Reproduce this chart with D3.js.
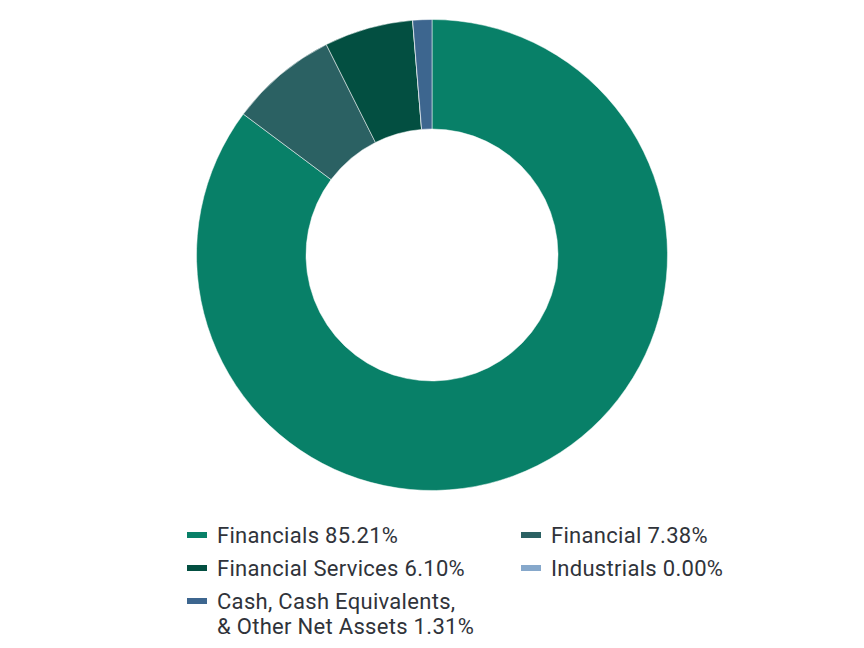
<!DOCTYPE html>
<html>
<head>
<meta charset="utf-8">
<script src="https://cdn.jsdelivr.net/npm/d3@7"></script>
<style>
  body { margin: 0; background: #fff; }
</style>
</head>
<body>
<div id="chart"></div>
<script>
const labels = ["Financials", "Financial", "Financial Services", "Industrials", "Cash, Cash Equivalents, & Other Net Assets"];
const values = [85.21, 7.38, 6.10, 0.00, 1.31];
const colors = ["#088068", "#2b6163", "#034f41", "#86a8cb", "#3d668f"];

const width = 864, height = 648;
const cx = 432, cy = 255;

const svg = d3.select("#chart")
  .append("svg")
  .attr("width", width)
  .attr("height", height);

const data = labels.map((l, i) => ({ label: l, value: values[i], color: colors[i] }));

const pie = d3.pie().sort(null).value(d => d.value);
const arc = d3.arc().innerRadius(126).outerRadius(235.5);

svg.append("g")
  .attr("transform", `translate(${cx}, ${cy})`)
  .selectAll("path")
  .data(pie(data))
  .enter()
  .append("path")
  .attr("d", arc)
  .attr("fill", d => d.data.color)
  .attr("stroke", "#fff")
  .attr("stroke-width", 0.5);

// legend: order in picture
const legendPos = [
  { i: 0, x: 187, y: 535 },
  { i: 1, x: 521, y: 535 },
  { i: 2, x: 187, y: 568 },
  { i: 3, x: 521, y: 568 },
  { i: 4, x: 187, y: 601 }
];

const legend = svg.append("g");
legendPos.forEach(p => {
  const d = data[p.i];
  const g = legend.append("g").attr("transform", `translate(${p.x}, ${p.y})`);
  g.append("rect")
    .attr("x", 0).attr("y", -3)
    .attr("width", 20).attr("height", 6)
    .attr("fill", d.color);
  const txt = g.append("text")
    .attr("x", 30)
    .attr("y", 8)
    .style("font-family", "Roboto, sans-serif")
    .style("font-size", "22px")
    .style("letter-spacing", "0.3px")
    .style("fill", "#30333a");
  const full = `${d.label} ${d.value.toFixed(2)}%`;
  if (p.i === 4) {
    txt.append("tspan").attr("x", 30).text("Cash, Cash Equivalents,");
    txt.append("tspan").attr("x", 30).attr("dy", 25).text(`& Other Net Assets ${d.value.toFixed(2)}%`);
  } else {
    txt.text(full);
  }
});
</script>
</body>
</html>
